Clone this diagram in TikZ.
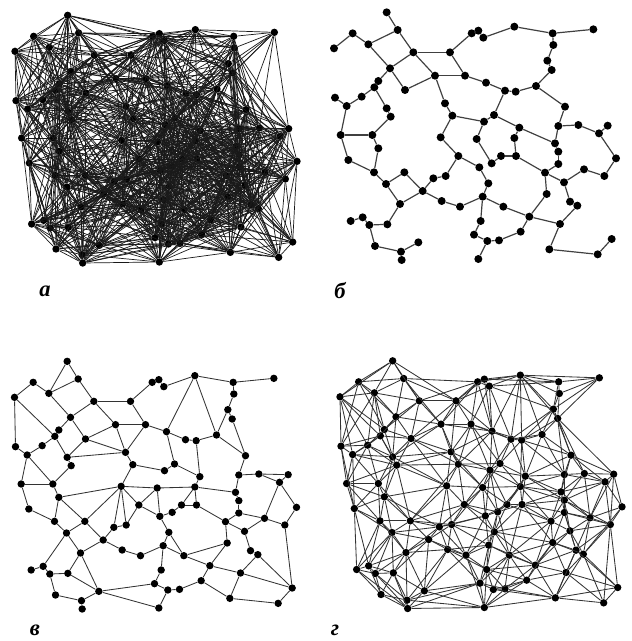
\documentclass[tikz,border=0pt]{standalone}
\usepackage{fontspec}
\setmainfont{Liberation Serif}

\tikzset{
  site/.style={circle, fill=black, inner sep=0pt, minimum size=1.85mm},
  wire/.style={draw=black!75, line width=0.85pt},
  fine wire/.style={draw=black!80, line width=0.6pt},
  hair wire/.style={draw=black!90, line width=0.5pt},
  panel tag/.style={font=\fontsize{16}{16}\selectfont\bfseries\itshape}
}

% sites, in thirds of a pixel; the same set is used in all four graphs
\def\sites{200/37, 233/90, 98/100, 145/133, 42/145, 280/157, 390/157, 210/205,
  175/243, 163/262, 345/227, 435/227, 255/270, 125/290, 45/293, 80/318,
  200/325, 212/350, 375/310, 397/347, 455/100, 475/92, 490/113, 583/80,
  698/100, 820/88, 700/135, 682/182, 695/210, 498/248, 555/272, 587/275,
  648/258, 735/320, 522/345, 492/365, 598/383, 715/378, 775/375, 863/377,
  837/400, 62/405, 157/405, 175/445, 362/412, 470/417, 583/414, 705/430,
  715/455, 888/475, 85/480, 415/468, 543/468, 588/468, 515/490, 478/502,
  715/492, 792/508, 853/528, 162/517, 253/517, 675/518, 340/535, 377/528,
  505/550, 198/552, 732/547, 308/573, 680/582, 488/590, 365/603, 420/620,
  240/612, 750/605, 772/617, 550/620, 628/650, 92/663, 128/652, 148/675,
  202/673, 482/663, 720/672, 602/695, 462/704, 502/723, 537/721, 875/717,
  295/727, 165/738, 688/748, 243/755, 245/780, 833/763, 475/777}

\newcount\nsites
\foreach \x/\y [count=\n] in \sites {%
  \global\nsites=\n
  \expandafter\xdef\csname sx\n\endcsname{\x}%
  \expandafter\xdef\csname sy\n\endcsname{\y}}

\newcount\si \newcount\sj \newcount\sk \newcount\dsq \newcount\rsq
\newcount\ux \newcount\uy \newcount\ua \newcount\ub \newcount\ta
\newcount\tlo \newcount\tlt \newcount\thi \newcount\tht
\newcount\nin \newcount\okay
\def\sx#1{\csname sx\the#1\endcsname}
\def\sy#1{\csname sy\the#1\endcsname}

% run \pairtest on every two sites closer than \rsq
\def\pairloop{%
  \ifnum\sj>\nsites \advance\si 1 \sj=\si \advance\sj 1 \fi
  \ifnum\si<\nsites
    \dsq=\numexpr(\sx\si-\sx\sj)*(\sx\si-\sx\sj)
               +(\sy\si-\sy\sj)*(\sy\si-\sy\sj)\relax
    \ifnum\dsq<\rsq \pairtest \fi
    \advance\sj 1
    \expandafter\pairloop
  \fi}
\def\linkit{\edef\na{\pfx\the\si}\edef\nb{\pfx\the\sj}%
  \draw[\lnk] (\na) -- (\nb);}

% circles through the pair: centres on the bisector; keep the two
% nearest bounds on each side
\def\delstep{%
  \ux=\numexpr2*\sx\sk-\sx\si-\sx\sj\relax
  \uy=\numexpr2*\sy\sk-\sy\si-\sy\sj\relax
  \ua=\numexpr\ux*\ux+\uy*\uy-\dsq\relax
  \ub=\numexpr(\sy\si-\sy\sj)*\ux+(\sx\sj-\sx\si)*\uy\relax
  \ifnum\ub>0
    \ta=\numexpr\ua*100/\ub\relax
    \ifnum\ta<\tlo \tlt=\tlo \tlo=\ta \else\ifnum\ta<\tlt \tlt=\ta \fi\fi
  \else\ifnum\ub<0
    \ta=\numexpr\ua*100/\ub\relax
    \ifnum\ta>\thi \tht=\thi \thi=\ta \else\ifnum\ta>\tht \tht=\ta \fi\fi
  \else
    \ifnum\ua<0 \advance\nin 1 \fi
  \fi\fi}
\def\delloop{%
  \ifnum\sk>\nsites\else
    \ifnum\sk=\si\else\ifnum\sk=\sj\else\delstep\fi\fi
    \advance\sk 1
    \expandafter\delloop
  \fi}
% link when some circle through the pair holds at most one other site
\def\delaunaytest{%
  \tlo=1000000000 \tlt=1000000000 \thi=-1000000000 \tht=-1000000000
  \nin=0 \sk=1 \delloop
  \okay=0
  \ifcase\nin
    \ifnum\tlt>\thi \okay=1 \fi
    \ifnum\tlo>\tht \okay=1 \fi
  \or
    \ifnum\tlo>\thi \okay=1 \fi
  \fi
  \ifnum\okay=1 \linkit\fi}

% #1 panel prefix, #2 longest link, #3 link style
\newcommand\linkclose[3]{%
  \def\pfx{#1}\rsq=\numexpr#2*#2\relax\def\lnk{#3}%
  \let\pairtest\linkit \si=1 \sj=2 \pairloop}
\newcommand\linkdelaunay[3]{%
  \def\pfx{#1}\rsq=\numexpr#2*#2\relax\def\lnk{#3}%
  \let\pairtest\delaunaytest \si=1 \sj=2 \pairloop}

\begin{document}
\begin{tikzpicture}[x=0.25mm, y=-0.25mm]
  \useasboundingbox (0,0) rectangle (631,641);

  % a: all pairs within a wide radius
  \begin{scope}[shift={(1,3)}]
    \foreach \x/\y [count=\n] in \sites
      \node[site] (a\n) at (\x/3,\y/3) {};
    \linkclose{a}{300}{hair wire}
  \end{scope}

  % b
  \begin{scope}[shift={(320,0)}]
    \foreach \x/\y [count=\n] in \sites
      \node[site, minimum size=2mm] (b\n) at (\x/3,\y/3) {};
    \foreach \p/\q in {1/2, 2/4, 2/6, 3/4, 3/5, 4/8, 6/8, 6/7, 6/11, 7/12,
      7/21, 11/12, 11/13, 11/19, 8/13, 8/9, 9/10, 10/14, 10/17, 17/18, 18/43,
      14/16, 15/16, 16/42, 42/43, 43/44, 19/20, 20/36, 20/45, 21/22, 22/23,
      23/24, 24/25, 25/26, 25/27, 27/28, 28/29, 29/33, 33/32, 32/31, 31/30,
      30/12, 31/35, 33/34, 34/38, 38/39, 39/41, 41/40, 41/50, 50/59, 59/58,
      58/67, 38/48, 48/49, 49/57, 35/37, 37/48, 35/36, 36/46, 46/55, 37/47,
      47/54, 54/62, 62/57, 62/67, 62/69, 69/77, 77/83, 83/75, 74/75, 74/67,
      83/91, 91/94, 94/88, 77/76, 76/70, 77/84, 84/87, 87/86, 86/85, 86/95,
      82/70, 82/85, 70/65, 65/56, 56/52, 55/53, 53/54, 45/52, 42/51, 51/60,
      44/60, 60/66, 61/66, 61/68, 66/73, 73/68, 68/63, 63/64, 64/52, 68/71,
      71/72, 72/70, 73/81, 81/80, 80/79, 79/78, 80/90, 90/92, 92/93, 92/89}
      \draw[wire] (b\p) -- (b\q);
  \end{scope}

  % v
  \begin{scope}[shift={(0.5,349)}]
    \foreach \x/\y [count=\n] in \sites
      \node[site] (v\n) at (\x/3,\y/3) {};
    \foreach \p/\q in {1/2, 1/4, 2/4, 2/6, 3/4, 3/5, 5/15, 5/10, 4/8, 6/8,
      6/7, 6/11, 8/9, 9/10, 8/13, 7/12, 7/21, 11/12, 11/13, 11/19, 12/19,
      13/19, 13/17, 10/14, 14/16, 15/16, 10/17, 17/18, 17/19, 16/42, 16/43,
      18/43, 19/20, 20/45, 20/36, 21/22, 22/23, 23/24, 24/25, 25/26, 25/27,
      27/28, 28/29, 24/30, 24/33, 28/33, 29/34, 30/31, 31/32, 32/33, 30/35,
      32/37, 35/36, 35/37, 12/30, 33/34, 34/38, 38/39, 39/40, 40/41, 39/41,
      41/50, 41/58, 38/48, 48/49, 49/57, 37/47,
      42/43, 42/51, 43/44, 44/45, 45/46, 44/60, 51/60, 44/61, 45/61, 45/63,
      45/64, 45/52, 52/64, 46/52, 52/56, 60/66, 61/66, 66/79, 61/68, 63/68,
      68/71, 71/72, 68/73, 66/73, 73/81, 73/89, 81/89, 78/79, 79/80, 80/81,
      80/90, 90/92, 92/93, 92/89, 89/85, 89/95, 63/64, 72/70,
      46/47, 47/53, 47/54, 47/48, 53/54, 53/55, 55/56, 46/56, 54/62, 57/62,
      57/58, 58/59, 50/59, 59/88, 58/67, 62/67, 62/69, 67/74, 74/75, 75/88,
      69/76, 56/65, 65/70, 70/76, 76/77, 69/77, 77/83, 75/83, 83/88, 83/91,
      91/94, 88/94, 84/91, 77/84, 84/87, 86/87, 85/86, 70/82, 86/95, 82/85,
      65/76}
      \draw[fine wire] (v\p) -- (v\q);
  \end{scope}

  % g: pairs with a nearly empty circle, long hull links left out
  \begin{scope}[shift={(326,348.5)}]
    \foreach \x/\y [count=\n] in \sites
      \node[site] (g\n) at (\x/3,\y/3) {};
    \linkdelaunay{g}{240}{fine wire}
  \end{scope}

  \node[panel tag] (tag-a) at (45,291) {а};
  \node[panel tag] (tag-b) at (340,291) {б};
  \node[panel tag] (tag-v) at (35,630) {в};
  \node[panel tag] (tag-g) at (335,630) {г};
\end{tikzpicture}
\end{document}
